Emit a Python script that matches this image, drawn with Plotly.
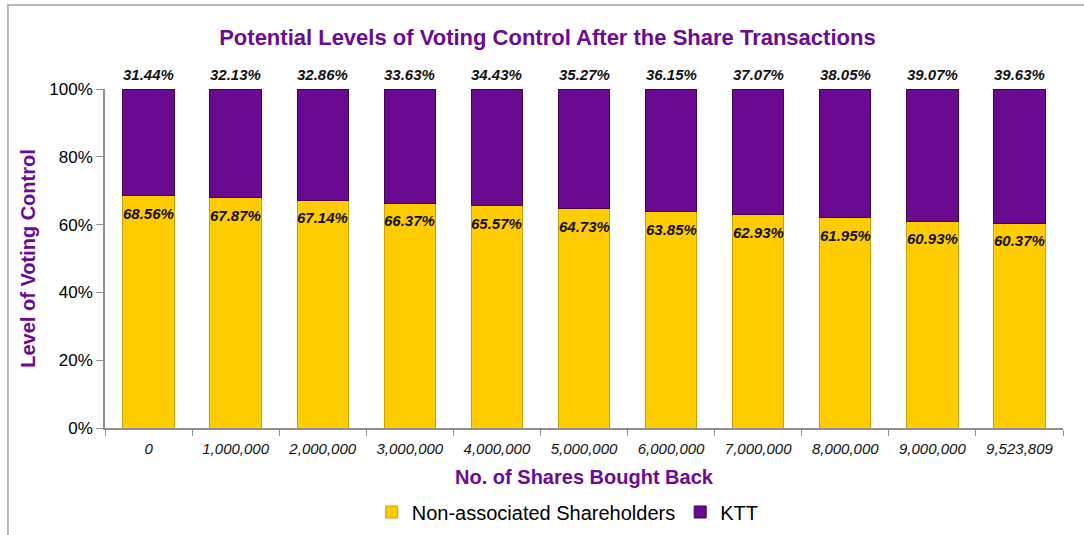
import plotly.graph_objects as go

categories = ["0", "1,000,000", "2,000,000", "3,000,000", "4,000,000", "5,000,000",
              "6,000,000", "7,000,000", "8,000,000", "9,000,000", "9,523,809"]
non_associated = [68.56, 67.87, 67.14, 66.37, 65.57, 64.73, 63.85, 62.93, 61.95, 60.93, 60.37]
ktt = [31.44, 32.13, 32.86, 33.63, 34.43, 35.27, 36.15, 37.07, 38.05, 39.07, 39.63]
y_ticks = [0, 20, 40, 60, 80, 100]

PURPLE = "#6A0A91"
YELLOW = "#FFCC00"
TITLE_PURPLE = "#6B0A96"
FONT = "Liberation Sans, Arial, sans-serif"

fig = go.Figure()
fig.add_trace(go.Bar(
    x=categories, y=non_associated, name="Non-associated Shareholders",
    marker=dict(color=YELLOW, line=dict(color="#C9A000", width=1)),
))
fig.add_trace(go.Bar(
    x=categories, y=ktt, name="KTT",
    marker=dict(color=PURPLE, line=dict(color="#3E0557", width=1)),
))

for c, v in zip(categories, ktt):
    fig.add_annotation(x=c, y=100, xref="x", yref="y", text=f"<b><i>{v:.2f}%</i></b>",
                       showarrow=False, yanchor="bottom", yshift=4,
                       font=dict(family=FONT, size=15, color="#111111"))
for c, v in zip(categories, non_associated):
    fig.add_annotation(x=c, y=v, xref="x", yref="y", text=f"<b><i>{v:.2f}%</i></b>",
                       showarrow=False, yanchor="top", yshift=-7,
                       font=dict(family=FONT, size=15, color="#111111"))

fig.add_shape(type="rect", xref="paper", yref="paper",
              x0=-0.1013, x1=1.05, y0=-0.40, y1=1.2478,
              line=dict(color="#A0A0A0", width=1.5), layer="below")

fig.update_layout(
    barmode="stack", bargap=0.41,
    width=1084, height=535,
    margin=dict(l=105, r=21, t=89, b=107),
    paper_bgcolor="white", plot_bgcolor="white",
    font=dict(family=FONT, size=14, color="black"),
    title=dict(text="<b>Potential Levels of Voting Control After the Share Transactions</b>",
               x=0.505, xref="container", xanchor="center", y=0.93, yanchor="middle",
               font=dict(family=FONT, size=22, color=TITLE_PURPLE)),
    legend=dict(orientation="h", x=0.483, xanchor="center",
                yref="container", y=0.043, yanchor="middle",
                font=dict(family=FONT, size=20, color="black"), itemwidth=30,
                traceorder="normal"),
    showlegend=True,
)
fig.update_xaxes(
    type="category", showline=True, linecolor="#909090", linewidth=1.5,
    ticks="outside", tickson="boundaries", tickcolor="#909090", ticklen=6,
    ticklabelstandoff=6, automargin=False,
    tickfont=dict(family=FONT, size=15, color="#111111", style="italic"),
    title=dict(text="<b>No. of Shares Bought Back</b>", standoff=14,
               font=dict(family=FONT, size=20, color=TITLE_PURPLE)),
    showgrid=False,
)
fig.update_yaxes(
    range=[0, 100], tickvals=y_ticks, ticktext=[f"{t}%" for t in y_ticks],
    showline=True, linecolor="#909090", linewidth=1.5,
    ticks="outside", tickcolor="#909090", ticklen=7, automargin=False,
    tickfont=dict(family=FONT, size=17, color="black"),
    title=dict(text="<b>Level of Voting Control</b>", standoff=8,
               font=dict(family=FONT, size=20, color=TITLE_PURPLE)),
    showgrid=False, zeroline=False,
)

fig.write_html("out.html")
